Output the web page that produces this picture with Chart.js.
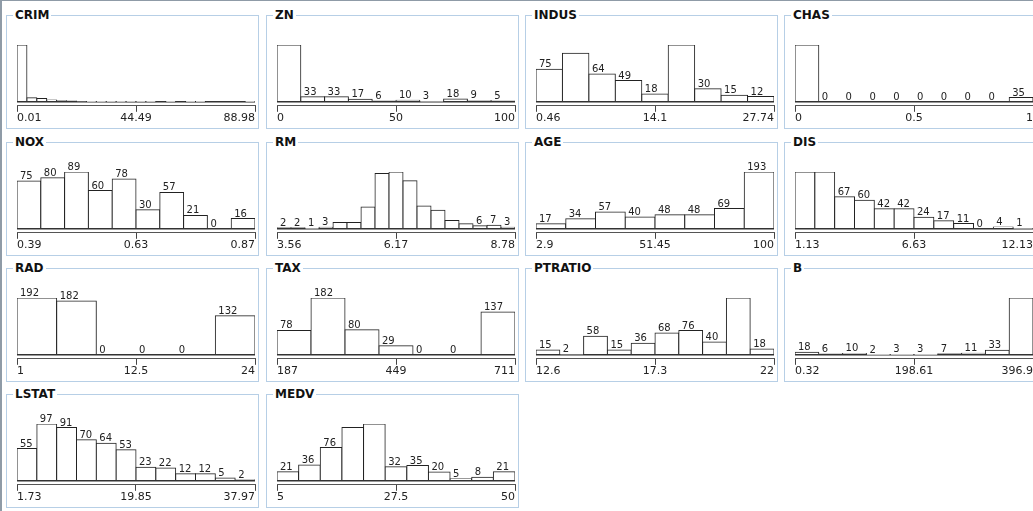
<!DOCTYPE html>
<html>
<head>
<meta charset="utf-8">
<script src="https://cdn.jsdelivr.net/npm/chart.js@4"></script>
<style>
  body { margin: 0; background: #fff; font-family: 'DejaVu Sans', Verdana, sans-serif; }
  #frame { position: absolute; left: 0; top: 0; width: 1033px; height: 511px; box-sizing: border-box;
           border-top: 1px solid #8f9ba7; border-left: 2px solid #8f9ba7; }
  .panel { position: absolute; width: 253px; height: 114px; box-sizing: border-box; border: 1px solid #b7cfe6; }
  .panel span { position: absolute; left: 6px; top: -8px; padding: 0 2px; background: #fff;
                font: bold 12px 'DejaVu Sans', Verdana, sans-serif; line-height: 14px; color: #111; }
  .panel canvas { position: absolute; left: 0; top: 0; }
</style>
</head>
<body>
<div id="frame"></div>
<div id="panels"></div>
<script>
// --- DATOS (recuentos por intervalo) ---
const crimCounts = [407, 30, 23, 13, 7, 6, 5, 3, 2, 1, 2, 1, 1, 1, 0, 1, 0, 1, 1, 0, 0, 0, 0, 1];
const znCounts = [372, 33, 33, 17, 6, 10, 3, 18, 9, 5];
const indusCounts = [75, 112, 64, 49, 18, 131, 30, 15, 12];
const chasCounts = [471, 0, 0, 0, 0, 0, 0, 0, 0, 35];
const noxCounts = [75, 80, 89, 60, 78, 30, 57, 21, 0, 16];
const rmCounts = [2, 2, 1, 3, 12, 12, 42, 107, 110, 93, 44, 36, 16, 10, 6, 7, 3];
const ageCounts = [17, 34, 57, 40, 48, 48, 69, 193];
const disCounts = [119, 119, 67, 60, 42, 42, 24, 17, 11, 0, 4, 1];
const radCounts = [192, 182, 0, 0, 0, 132];
const taxCounts = [78, 182, 80, 29, 0, 0, 137];
const ptratioCounts = [15, 2, 58, 15, 36, 68, 76, 40, 178, 18];
const bCounts = [18, 6, 10, 2, 3, 3, 7, 11, 33, 413];
const lstatCounts = [55, 97, 91, 70, 64, 53, 23, 22, 12, 12, 5, 2];
const medvCounts = [21, 36, 76, 122, 130, 32, 35, 20, 5, 8, 21];

const names = ['CRIM', 'ZN', 'INDUS', 'CHAS', 'NOX', 'RM', 'AGE', 'DIS',
               'RAD', 'TAX', 'PTRATIO', 'B', 'LSTAT', 'MEDV'];
const allCounts = [crimCounts, znCounts, indusCounts, chasCounts, noxCounts, rmCounts, ageCounts,
                   disCounts, radCounts, taxCounts, ptratioCounts, bCounts, lstatCounts, medvCounts];
const rangeMin = [0.01, 0, 0.46, 0, 0.39, 3.56, 2.9, 1.13, 1, 187, 12.6, 0.32, 1.73, 5];
const rangeMax = [88.98, 100, 27.74, 1, 0.87, 8.78, 100, 12.13, 24, 711, 22, 396.9, 37.97, 50];
const tickLabels = [
    ['0.01', '44.49', '88.98'], ['0', '50', '100'], ['0.46', '14.1', '27.74'], ['0', '0.5', '1'],
    ['0.39', '0.63', '0.87'], ['3.56', '6.17', '8.78'], ['2.9', '51.45', '100'], ['1.13', '6.63', '12.13'],
    ['1', '12.5', '24'], ['187', '449', '711'], ['12.6', '17.3', '22'], ['0.32', '198.61', '396.9'],
    ['1.73', '19.85', '37.97'], ['5', '27.5', '50']
];

// --- DISPOSICIÓN ---
const COL_LEFT = [6, 266, 525, 784];
const ROW_TOP = [15, 142, 268, 394];
const FONT = "'DejaVu Sans', Verdana, sans-serif";

// Etiquetas de recuento encima de cada barra (solo si caben en el ancho)
const countLabels = {
    id: 'countLabels',
    afterDatasetsDraw(chart) {
        const ctx = chart.ctx;
        const meta = chart.getDatasetMeta(0);
        const values = chart.data.datasets[0].data;
        ctx.save();
        ctx.font = '10px ' + FONT;
        ctx.fillStyle = '#222';
        ctx.textBaseline = 'alphabetic';
        meta.data.forEach((bar, i) => {
            const text = String(values[i].y);
            const tw = ctx.measureText(text).width;
            if (bar.width < tw * 1.25 + 3) return;
            ctx.fillText(text, bar.x - bar.width / 2 + 3, bar.y - 2);
        });
        ctx.restore();
    }
};

const container = document.getElementById('panels');

names.forEach((name, k) => {
    const panel = document.createElement('div');
    panel.className = 'panel';
    panel.style.left = COL_LEFT[k % 4] + 'px';
    panel.style.top = ROW_TOP[Math.floor(k / 4)] + 'px';
    const canvas = document.createElement('canvas');
    canvas.width = 251;
    canvas.height = 112;
    const title = document.createElement('span');
    title.textContent = name;
    panel.appendChild(canvas);
    panel.appendChild(title);
    container.appendChild(panel);

    const counts = allCounts[k];
    const lo = rangeMin[k], hi = rangeMax[k];
    const step = (hi - lo) / counts.length;
    const points = counts.map((c, i) => ({ x: lo + (i + 0.5) * step, y: c }));
    const top = Math.max(...counts);

    new Chart(canvas.getContext('2d'), {
        type: 'bar',
        data: {
            datasets: [{
                data: points,
                backgroundColor: '#fff',
                borderColor: '#222',
                borderWidth: 1,
                inflateAmount: 0.5,
                barPercentage: 1,
                categoryPercentage: 1
            }]
        },
        options: {
            responsive: false,
            animation: false,
            devicePixelRatio: 1,
            layout: { padding: { left: 10, right: 3, top: 29, bottom: 3 } },
            plugins: { legend: { display: false }, tooltip: { enabled: false } },
            scales: {
                x: {
                    type: 'linear',
                    min: lo,
                    max: hi,
                    offset: false,
                    afterBuildTicks: (scale) => {
                        scale.ticks = [{ value: lo }, { value: (lo + hi) / 2 }, { value: hi }];
                    },
                    border: { display: true, color: '#555', width: 1 },
                    grid: { drawOnChartArea: false, offset: false, tickLength: 6, color: '#444' },
                    ticks: {
                        align: 'inner',
                        maxRotation: 0,
                        padding: 0,
                        color: '#222',
                        font: { family: FONT, size: 11 },
                        callback: (value, index) => tickLabels[k][index]
                    }
                },
                y: {
                    z: 1,   // línea base por encima de las barras
                    min: -top * 4 / 57,
                    max: top,
                    afterBuildTicks: (scale) => { scale.ticks = [{ value: 0 }]; },
                    border: { display: false },
                    grid: { drawTicks: false, color: '#333', lineWidth: 1.5 },
                    ticks: { display: false }
                }
            }
        },
        plugins: [countLabels]
    });
});
</script>
</body>
</html>
